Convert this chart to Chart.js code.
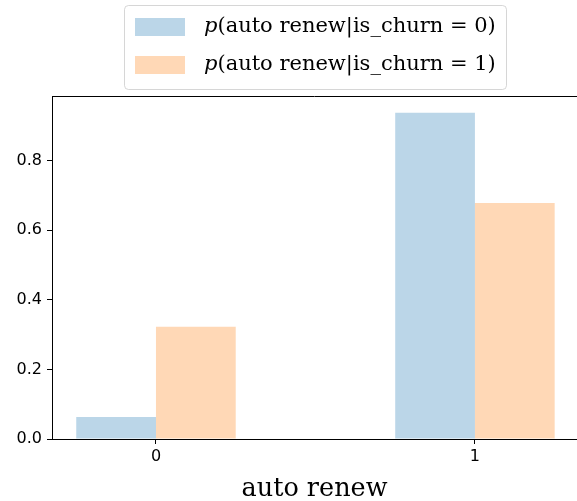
<!DOCTYPE html>
<html>
<head>
<meta charset="utf-8">
<script src="https://cdn.jsdelivr.net/npm/chart.js@4"></script>
<style>
  html, body { margin: 0; padding: 0; background: #fff; }
  #wrap { width: 577px; height: 501px; }
</style>
</head>
<body>
<div id="wrap"><canvas id="grafico" width="577" height="501"></canvas></div>
<script>
// data
const categories = [0, 1];
const churn0 = [0.063, 0.937];
const churn1 = [0.322, 0.678];
const yTicks = [0, 0.2, 0.4, 0.6, 0.8];
const seriesNames = ['0', '1'];
const xTitle = 'auto renew';

const blue = 'rgba(31, 119, 180, 0.3)';
const orange = 'rgba(255, 127, 14, 0.3)';

// top spine + matplotlib-style legend box
const extras = {
    id: 'extras',
    afterDraw(chart) {
        const c = chart.ctx;
        const a = chart.chartArea;
        c.save();
        c.strokeStyle = '#000';
        c.lineWidth = 1;
        c.beginPath();
        c.moveTo(a.left, a.top + 0.5);
        c.lineTo(a.right, a.top + 0.5);
        c.stroke();

        // legend frame
        const bx = 124.5, by = 5.5, bw = 382, bh = 84, r = 4;
        c.fillStyle = 'rgba(255,255,255,0.8)';
        c.strokeStyle = 'rgba(204,204,204,0.8)';
        c.beginPath();
        c.roundRect(bx, by, bw, bh, r);
        c.fill();
        c.stroke();

        // fit the label text to the width seen in the reference
        c.font = '20px "DejaVu Serif"';
        const w = c.measureText('p(auto renew|is_churn = 0)').width;
        const fs = 20 * 292 / w;

        chart.data.datasets.forEach((ds, i) => {
            const cy = 27 + i * 38;
            c.fillStyle = ds.backgroundColor;
            c.fillRect(135, cy - 9, 50, 18);
            c.fillStyle = '#000';
            c.textBaseline = 'middle';
            c.textAlign = 'left';
            c.font = 'italic ' + fs + 'px "DejaVu Serif"';
            c.fillText('p', 204, cy);
            const pw = c.measureText('p').width;
            c.font = fs + 'px "DejaVu Serif"';
            c.fillText('(auto renew|is_churn = ' + seriesNames[i] + ')', 204 + pw, cy);
        });
        c.restore();
    }
};

const ctx = document.getElementById('grafico').getContext('2d');
const myChart = new Chart(ctx, {
    type: 'bar',
    data: {
        datasets: [{
            label: 'p(auto renew|is_churn = 0)',
            data: categories.map((c, i) => ({ x: c, y: churn0[i] })),
            backgroundColor: blue,
            borderWidth: 0
        }, {
            label: 'p(auto renew|is_churn = 1)',
            data: categories.map((c, i) => ({ x: c, y: churn1[i] })),
            backgroundColor: orange,
            borderWidth: 0
        }]
    },
    options: {
        responsive: false,
        animation: false,
        categoryPercentage: 0.5,
        barPercentage: 1.0,
        layout: { padding: { top: 96, left: 0, right: 0, bottom: 0 } },
        plugins: {
            legend: { display: false },
            tooltip: { enabled: false }
        },
        scales: {
            x: {
                type: 'linear',
                min: -0.326,
                max: 1.32,
                offset: false,
                afterBuildTicks: axis => { axis.ticks = categories.map(v => ({ value: v })); },
                afterFit: axis => { axis.height = 62; },
                grid: { offset: false, drawOnChartArea: false, tickLength: 5, tickColor: '#000' },
                border: { color: '#000', width: 1 },
                ticks: {
                    color: '#000',
                    padding: 3,
                    font: { family: 'DejaVu Sans', size: 16 },
                    callback: v => String(v)
                },
                title: {
                    display: true,
                    text: xTitle,
                    color: '#000',
                    font: { family: 'DejaVu Serif', size: 25.5, lineHeight: 0.95 },
                    padding: { top: 0, bottom: 0 }
                }
            },
            y: {
                min: 0,
                max: 0.985,
                afterBuildTicks: axis => { axis.ticks = yTicks.map(v => ({ value: v })); },
                afterFit: axis => { axis.width = 52; },
                grid: { drawOnChartArea: false, tickLength: 5, tickColor: '#000' },
                border: { color: '#000', width: 1 },
                ticks: {
                    color: '#000',
                    padding: 5,
                    font: { family: 'DejaVu Sans', size: 16 },
                    callback: v => v.toFixed(1)
                }
            }
        }
    },
    plugins: [extras]
});
</script>
</body>
</html>
